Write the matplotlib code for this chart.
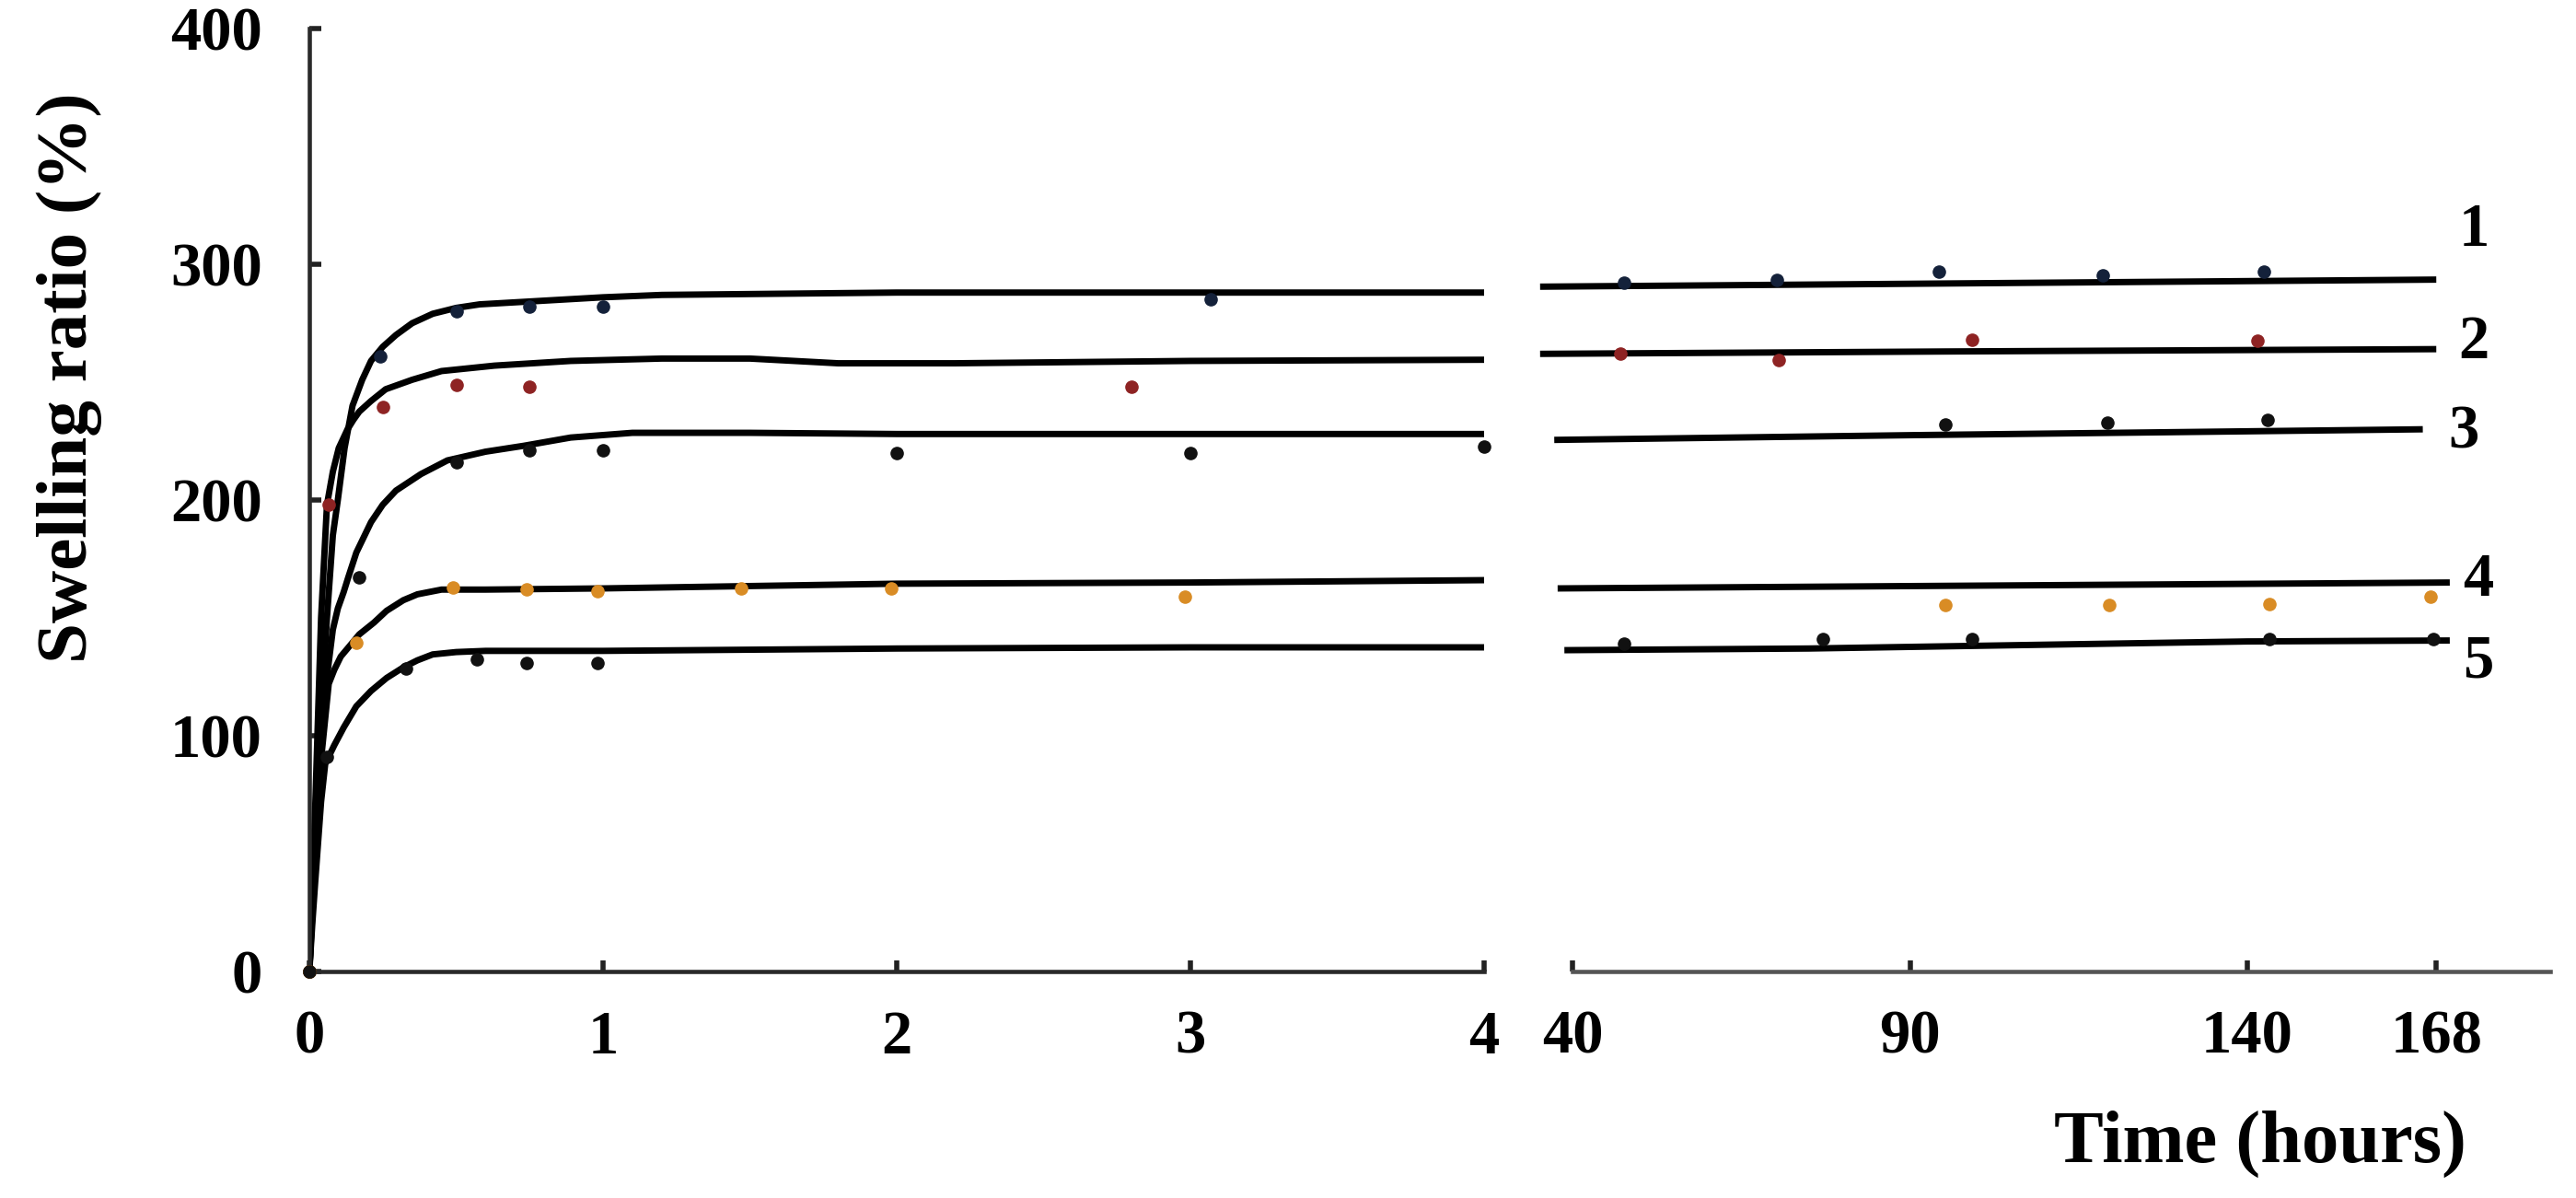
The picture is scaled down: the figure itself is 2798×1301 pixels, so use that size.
import matplotlib
matplotlib.use("Agg")
import matplotlib.pyplot as plt
from matplotlib.ticker import FixedLocator

plt.rcParams['font.family'] = ['Liberation Serif', 'DejaVu Serif']

# ---------------- data ----------------
series_names = ["1", "2", "3", "4", "5"]

# fitted curves, early period (hours 0-4)
fit1_t = [0, 0.01, 0.02, 0.04, 0.06, 0.08, 0.097, 0.12, 0.135, 0.147, 0.18, 0.21, 0.25, 0.295,
          0.35, 0.42, 0.5, 0.58, 0.79, 1.0, 1.2, 2.0, 3.0, 4.0]
fit1_v = [0, 30, 60, 110, 150, 185, 200, 222, 232, 240, 251, 259, 265, 270,
          275, 279, 281.5, 283, 284.5, 286, 287, 288, 288, 288]
fit2_t = [0, 0.01, 0.02, 0.04, 0.06, 0.08, 0.1, 0.13, 0.15, 0.17, 0.21, 0.26, 0.35, 0.45,
          0.63, 0.89, 1.2, 1.5, 1.8, 2.2, 3.0, 4.0]
fit2_v = [0, 35, 70, 150, 198, 212, 222, 230, 234, 237.5, 242, 247, 251, 254.7,
          257, 259, 260, 260, 258, 258, 259, 259.5]
fit3_t = [0, 0.01, 0.02, 0.04, 0.06, 0.08, 0.097, 0.117, 0.132, 0.16, 0.21, 0.25, 0.295, 0.38,
          0.47, 0.6, 0.73, 0.89, 1.1, 1.5, 2.0, 3.0, 4.0]
fit3_v = [0, 28, 55, 95, 125, 145, 154, 161, 167, 177.7, 190.6, 198, 204, 211,
          216.8, 220.5, 223, 226.5, 228.5, 228.5, 228, 228, 228]
fit4_t = [0, 0.01, 0.02, 0.04, 0.066, 0.085, 0.107, 0.14, 0.17, 0.22, 0.263, 0.32, 0.368, 0.45,
          0.6, 1.0, 1.5, 2.0, 3.0, 4.0]
fit4_v = [0, 25, 50, 90, 122, 128, 133.6, 138.5, 143, 148, 153, 157.5, 160, 162,
          162, 162.5, 163.5, 164.5, 165, 166]
fit5_t = [0, 0.01, 0.02, 0.04, 0.054, 0.085, 0.117, 0.16, 0.21, 0.263, 0.32, 0.368, 0.42, 0.5,
          0.6, 1.0, 2.0, 3.0, 4.0]
fit5_v = [0, 20, 38, 72, 88, 96, 103.5, 112.5, 119, 124.5, 129, 132, 134.5, 135.5,
          136, 136, 137, 137.5, 137.5]

# fitted curves, long period (hours 40-168)
fit1_long_t = [35.2, 80, 168]
fit1_long_v = [290.5, 291.5, 293.5]
fit2_long_t = [35.2, 95, 168]
fit2_long_v = [262, 263, 264]
fit3_long_t = [37.3, 90, 166]
fit3_long_v = [225.5, 227.5, 230]
fit4_long_t = [37.8, 170]
fit4_long_v = [162.5, 165]
fit5_long_t = [38.8, 75, 140, 170]
fit5_long_v = [136.3, 137, 140, 140.4]

# measured points, early period
pts1_t = [0, 0.24, 0.5, 0.75, 1.0, 3.07]
pts1_v = [0, 261, 280, 282, 282, 285]
pts2_t = [0, 0.066, 0.25, 0.5, 0.75, 2.8]
pts2_v = [0, 198, 239.5, 249, 248, 248]
pts3_t = [0, 0.17, 0.5, 0.75, 1.0, 2.0, 3.0, 4.0]
pts3_v = [0, 167, 216, 221, 221, 220, 220, 222.5]
pts4_t = [0, 0.16, 0.49, 0.74, 0.98, 1.47, 1.98, 2.98]
pts4_v = [0, 139.5, 163, 162, 161.3, 162.5, 162.5, 159]
pts5_t = [0, 0.06, 0.33, 0.57, 0.74, 0.98]
pts5_v = [0, 91, 128.5, 132.5, 131, 131]

# measured points, long period
lpts1_t = [47.6, 70.3, 94.3, 118.6, 142.5]
lpts1_v = [292, 293.5, 297, 295.5, 297]
lpts2_t = [47.1, 70.6, 99.2, 141.5]
lpts2_v = [262, 259.5, 268, 267.5]
lpts3_t = [95.2, 119.3, 143]
lpts3_v = [232, 233, 234]
lpts4_t = [95.2, 119.5, 143.3, 167.2]
lpts4_v = [155.5, 155.5, 156, 159]
lpts5_t = [47.6, 77.1, 99.2, 143.3, 167.6]
lpts5_v = [139, 141, 141, 141, 141]

yticks = [0, 100, 200, 300, 400]
xticks_short = [0, 1, 2, 3, 4]
xticks_long = [40, 90, 140, 168]

marker_colors = ["#14213a", "#8e2323", "#111111", "#d98c25", "#111111"]

# ---------------- layout ----------------
W, H = 2798, 1301
fig = plt.figure(figsize=(W / 100, H / 100), dpi=100)
fig.patch.set_facecolor("white")

ax1 = fig.add_axes([336 / W, (H - 1055) / H, 1276 / W, 1024 / H])
ax2 = fig.add_axes([1660 / W, (H - 1055) / H, 1115 / W, 1024 / H])

LW = 5
MS = 9.5
fits_short = [(fit1_t, fit1_v), (fit2_t, fit2_v), (fit3_t, fit3_v), (fit4_t, fit4_v), (fit5_t, fit5_v)]
pts_short = [(pts1_t, pts1_v), (pts2_t, pts2_v), (pts3_t, pts3_v), (pts4_t, pts4_v), (pts5_t, pts5_v)]
fits_long = [(fit1_long_t, fit1_long_v), (fit2_long_t, fit2_long_v), (fit3_long_t, fit3_long_v),
             (fit4_long_t, fit4_long_v), (fit5_long_t, fit5_long_v)]
pts_long = [(lpts1_t, lpts1_v), (lpts2_t, lpts2_v), (lpts3_t, lpts3_v), (lpts4_t, lpts4_v), (lpts5_t, lpts5_v)]

for i in range(5):
    t, v = fits_short[i]
    ax1.plot(t, v, color="black", lw=LW, solid_joinstyle="round", solid_capstyle="butt", zorder=2)
    t, v = pts_short[i]
    ax1.plot(t, v, 'o', color=marker_colors[i], ms=MS, zorder=3, clip_on=False)
    t, v = fits_long[i]
    ax2.plot(t, v, color="black", lw=LW, solid_capstyle="butt", zorder=2)
    t, v = pts_long[i]
    ax2.plot(t, v, 'o', color=marker_colors[i], ms=MS, zorder=3, clip_on=False)

# left axes
ax1.set_xlim(0, 4)
ax1.set_ylim(0, 400)
ax1.spines['top'].set_visible(False)
ax1.spines['right'].set_visible(False)
for s in ['left', 'bottom']:
    ax1.spines[s].set_linewidth(3.3)
    ax1.spines[s].set_color("#2a2a2a")
ax1.xaxis.set_major_locator(FixedLocator(xticks_short))
ax1.yaxis.set_major_locator(FixedLocator(yticks))
ax1.tick_params(axis='both', direction='in', length=9, width=4, color="#222222",
                labelsize=48)
ax1.tick_params(axis='x', pad=30)
ax1.tick_params(axis='y', pad=37)
for lab in ax1.get_xticklabels() + ax1.get_yticklabels():
    lab.set_fontweight('bold')

# right axes
x_lo = 40 - 48 / 7.33
x_hi = 40 + 1067 / 7.33
ax2.set_xlim(x_lo, x_hi)
ax2.set_ylim(0, 400)
for s in ['left', 'top', 'right']:
    ax2.spines[s].set_visible(False)
ax2.spines['bottom'].set_bounds(40, 40 + 1062 / 7.33)
ax2.spines['bottom'].set_linewidth(3.3)
ax2.spines['bottom'].set_color("#555555")
ax2.xaxis.set_major_locator(FixedLocator(xticks_long))
ax2.set_yticks([])
ax2.tick_params(axis='x', direction='in', length=9, width=4, color="#222222",
                labelsize=48, pad=30)
for lab in ax2.get_xticklabels():
    lab.set_fontweight('bold')

for ax in (ax1, ax2):
    ax.patch.set_alpha(0)

# curve numbers
label_pos_t = [173.6, 173.6, 172.1, 174.2, 174.2]
label_pos_v = [307.8, 260.2, 221.9, 159.4, 125.0]
for name, tx, ty in zip(series_names, label_pos_t, label_pos_v):
    ax2.text(tx, ty, name, fontsize=48, fontweight='bold', ha='center', va='baseline',
             clip_on=False)

# axis titles
fig.text(75.5 / W, 1 - 410 / H, "Swelling ratio (%)", rotation=90, ha='center', va='center',
         fontsize=57, fontweight='bold')
fig.text(2455 / W, 1 - 1262 / H, "Time (hours)", ha='center', va='baseline',
         fontsize=58, fontweight='bold')

fig.savefig("out.png", dpi=100, facecolor="white")
